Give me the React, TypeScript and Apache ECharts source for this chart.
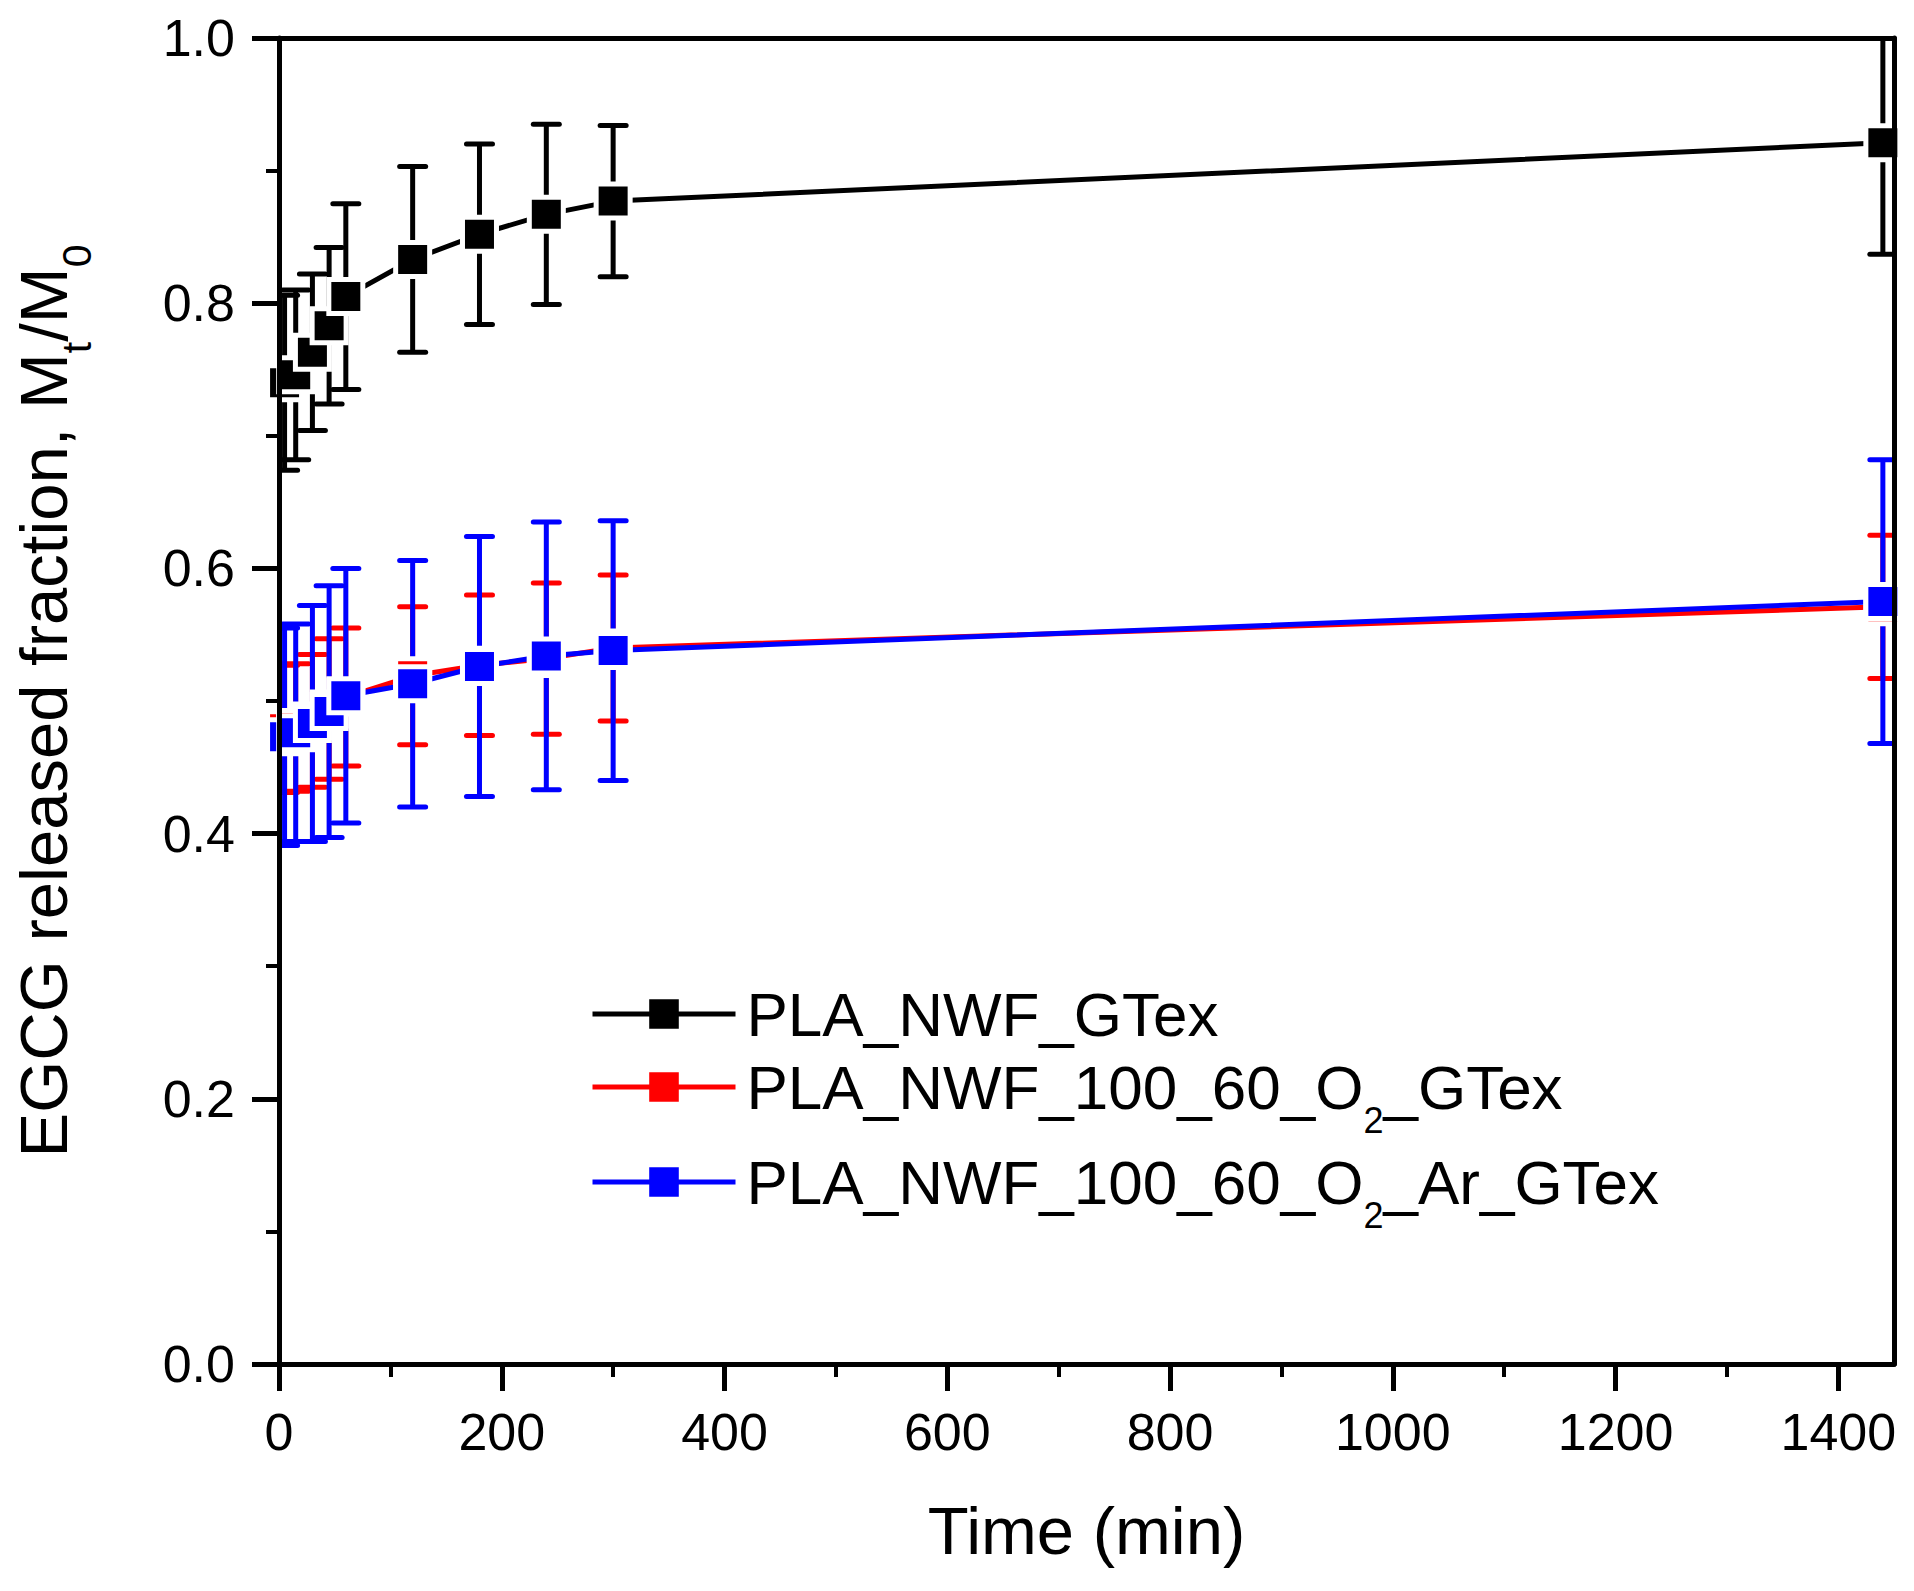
import React, { useEffect, useRef } from 'react';
import * as echarts from 'echarts';

// ---- data ----
const times = [5, 15, 30, 45, 60, 120, 180, 240, 300, 1440];

const seriesNames = ['PLA_NWF_GTex', 'PLA_NWF_100_60_O2_GTex', 'PLA_NWF_100_60_O2_Ar_GTex'];
const legendLabels = ['PLA_NWF_GTex', 'PLA_NWF_100_60_O{s|2}_GTex', 'PLA_NWF_100_60_O{s|2}_Ar_GTex'];

const blackVals = [0.740, 0.746, 0.763, 0.783, 0.805, 0.833, 0.852, 0.867, 0.877, 0.921];
const blackErr = [0.066, 0.064, 0.059, 0.059, 0.070, 0.070, 0.068, 0.068, 0.057, 0.084];

const redVals = [0.479, 0.480, 0.485, 0.494, 0.503, 0.519, 0.527, 0.532, 0.540, 0.571];
const redErr = [0.048, 0.048, 0.050, 0.053, 0.052, 0.052, 0.053, 0.057, 0.055, 0.054];

const blueVals = [0.473, 0.476, 0.483, 0.492, 0.504, 0.513, 0.526, 0.534, 0.538, 0.575];
const blueErr = [0.082, 0.082, 0.089, 0.095, 0.096, 0.093, 0.098, 0.101, 0.098, 0.107];

const xTicks = [0, 200, 400, 600, 800, 1000, 1200, 1400];
const xMinorTicks = [100, 300, 500, 700, 900, 1100, 1300];

const xTitle = 'Time (min)';
const yTitle = 'EGCG released fraction, M{s|t}/M{s|0}';

const FONT = '"Liberation Sans", Arial, Helvetica, sans-serif';
const colors = ['#000000', '#ff0000', '#0000ff'];

function lineSeries(name: string, vals: number[], color: string) {
  return {
    type: 'line',
    name,
    data: times.map((t, i) => [t, vals[i]]),
    symbol: 'rect',
    symbolSize: 34,
    showSymbol: true,
    showAllSymbol: true,
    itemStyle: { color, borderColor: '#ffffff', borderWidth: 5 },
    lineStyle: { color, width: 5 },
    emphasis: { disabled: true },
    silent: true,
    clip: true,
  };
}

function errSeries(vals: number[], errs: number[], color: string) {
  return {
    type: 'custom',
    data: times.map((t, i) => [t, vals[i], errs[i]]),
    encode: { x: 0, y: 1 },
    clip: true,
    silent: true,
    renderItem: (params: any, api: any) => {
      const x = api.value(0);
      const y = api.value(1);
      const e = api.value(2);
      const p1 = api.coord([x, y + e]);
      const p2 = api.coord([x, y - e]);
      const hw = 13;
      const capStyle = { stroke: color, lineWidth: 5, lineCap: 'round' };
      return {
        type: 'group',
        children: [
          { type: 'line', shape: { x1: p1[0], y1: p1[1], x2: p2[0], y2: p2[1] }, style: { stroke: color, lineWidth: 5 } },
          { type: 'line', shape: { x1: p1[0] - hw, y1: p1[1], x2: p1[0] + hw, y2: p1[1] }, style: capStyle },
          { type: 'line', shape: { x1: p2[0] - hw, y1: p2[1], x2: p2[0] + hw, y2: p2[1] }, style: capStyle },
        ],
      };
    },
  };
}

const legendTops = [983, 1056, 1151];

export default function App() {
  const ref = useRef<HTMLDivElement>(null);

  useEffect(() => {
    if (!ref.current) return;
    const chart = echarts.init(ref.current, undefined, { renderer: 'svg' });
    const axisLineStyle = { color: '#000', width: 5 };

    const option: any = {
      animation: false,
      backgroundColor: '#ffffff',
      grid: { left: 279, top: 38, width: 1615, height: 1326, outerBoundsMode: 'none', containLabel: false },
      legend: seriesNames.map((n, i) => ({
        orient: 'horizontal',
        left: 590,
        top: legendTops[i],
        padding: 0,
        data: [{ name: n, lineStyle: { width: 5, color: colors[i] }, itemStyle: { borderWidth: 0 } }],
        itemWidth: 143,
        itemHeight: 37,
        selectedMode: false,
        formatter: () => legendLabels[i],
        textStyle: {
          fontSize: 62,
          fontFamily: FONT,
          color: '#000',
          padding: [0, 0, 0, 6],
          rich: { s: { fontSize: 36, fontFamily: FONT, color: '#000', padding: [66, 0, 0, 0] } },
        },
        itemStyle: { borderWidth: 0 },
        lineStyle: { width: 5 },
      })),
      xAxis: [
        {
          type: 'value', min: 0, max: 1450, position: 'bottom', z: 10,
          axisLine: { show: true, onZero: false, lineStyle: axisLineStyle },
          axisTick: { show: true, customValues: xTicks, length: 27, lineStyle: { color: '#000', width: 5 } },
          axisLabel: {
            customValues: xTicks, fontSize: 52, color: '#000', fontFamily: FONT, margin: 42,
            formatter: (v: number) => String(v),
          },
          splitLine: { show: false },
          name: xTitle, nameLocation: 'middle', nameGap: 133,
          nameTextStyle: { fontSize: 67, fontFamily: FONT, color: '#000' },
        },
        {
          type: 'value', min: 0, max: 1450, position: 'bottom', z: 10,
          axisLine: { show: false, onZero: false },
          axisTick: { show: true, customValues: xMinorTicks, length: 13, lineStyle: { color: '#000', width: 4 } },
          axisLabel: { show: false },
          splitLine: { show: false },
        },
        {
          type: 'value', min: 0, max: 1450, position: 'top', z: 10,
          axisLine: { show: true, onZero: false, lineStyle: axisLineStyle },
          axisTick: { show: false },
          axisLabel: { show: false },
          splitLine: { show: false },
        },
      ],
      yAxis: [
        {
          type: 'value', min: 0, max: 1, interval: 0.2, position: 'left', z: 10,
          axisLine: { show: true, onZero: false, lineStyle: axisLineStyle },
          axisTick: { show: true, length: 27, lineStyle: { color: '#000', width: 5 } },
          minorTick: { show: true, splitNumber: 2, length: 13, lineStyle: { color: '#000', width: 4 } },
          axisLabel: { formatter: (v: number) => v.toFixed(1), fontSize: 52, color: '#000', fontFamily: FONT, margin: 44 },
          splitLine: { show: false },
          minorSplitLine: { show: false },
          name: yTitle, nameLocation: 'middle', nameGap: 182,
          nameTextStyle: {
            fontSize: 67, fontFamily: FONT, color: '#000',
            rich: { s: { fontSize: 41, fontFamily: FONT, color: '#000', padding: [67, 0, 0, 0] } },
          },
        },
        {
          type: 'value', min: 0, max: 1, position: 'right', z: 10,
          axisLine: { show: true, onZero: false, lineStyle: axisLineStyle },
          axisTick: { show: false },
          axisLabel: { show: false },
          splitLine: { show: false },
        },
      ],
      series: [
        lineSeries(seriesNames[0], blackVals, colors[0]),
        errSeries(blackVals, blackErr, colors[0]),
        lineSeries(seriesNames[1], redVals, colors[1]),
        errSeries(redVals, redErr, colors[1]),
        lineSeries(seriesNames[2], blueVals, colors[2]),
        errSeries(blueVals, blueErr, colors[2]),
      ],
    };

    chart.setOption(option);
    return () => chart.dispose();
  }, []);

  return (
    <div
      ref={ref}
      style={{ position: 'absolute', left: 0, top: 0, width: 1914, height: 1591, background: '#fff' }}
    />
  );
}
